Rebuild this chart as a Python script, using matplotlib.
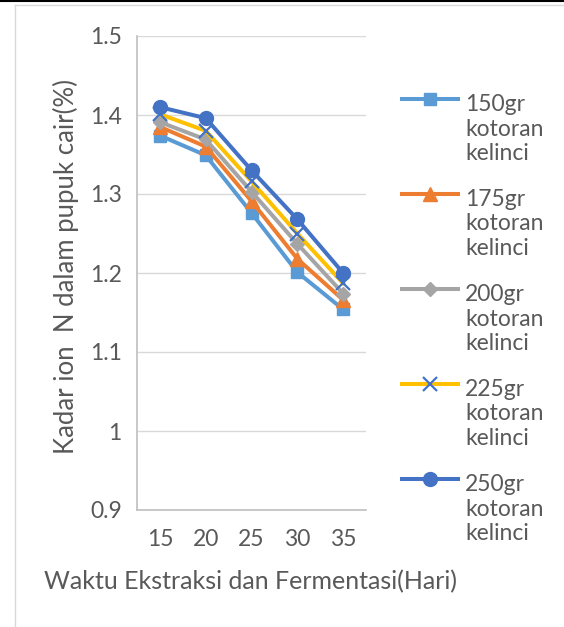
import matplotlib
matplotlib.use("Agg")
from matplotlib import pyplot as plt
from matplotlib.lines import Line2D

plt.rcParams['font.family'] = ['Lato', 'DejaVu Sans']

#%% Data

hari = [15, 20, 25, 30, 35]
n_150 = [1.374, 1.349, 1.276, 1.201, 1.154]
n_175 = [1.385, 1.360, 1.291, 1.218, 1.166]
n_200 = [1.391, 1.369, 1.303, 1.237, 1.174]
n_225 = [1.401, 1.380, 1.316, 1.250, 1.187]
n_250 = [1.410, 1.396, 1.330, 1.268, 1.200]
labels = ['150gr\nkotoran\nkelinci', '175gr\nkotoran\nkelinci', '200gr\nkotoran\nkelinci',
          '225gr\nkotoran\nkelinci', '250gr\nkotoran\nkelinci']
yticks = [0.9, 1, 1.1, 1.2, 1.3, 1.4, 1.5]
ytick_labels = ['0.9', '1', '1.1', '1.2', '1.3', '1.4', '1.5']

series = [n_150, n_175, n_200, n_225, n_250]
line_colors = ['#5B9BD5', '#ED7D31', '#A5A5A5', '#FFC000', '#4472C4']
marker_colors = ['#5B9BD5', '#ED7D31', '#A5A5A5', '#4472C4', '#4472C4']
markers = ['s', '^', 'D', 'x', 'o']
msizes = [8.5, 9.5, 7.5, 10, 10]

txt = '#595959'
W, H = 564, 627
lw = 2.9

fig = plt.figure(figsize=(W/100, H/100), dpi=100)
ax = fig.add_axes([137/W, 1-510/H, (366-137)/W, (510-36)/H])

for y, lc, mc, m, ms in zip(series, line_colors, marker_colors, markers, msizes):
    ax.plot(hari, y, color=lc, lw=lw, marker=m, markersize=ms,
            markerfacecolor=mc, markeredgecolor=mc, markeredgewidth=1.6 if m == 'x' else 1)

ax.set_xlim(12.5, 37.5)
ax.set_ylim(0.9, 1.5)
ax.set_xticks(hari)
ax.set_yticks(yticks)
ax.set_yticklabels(ytick_labels)
ax.tick_params(length=0, labelsize=16.5, colors=txt)
ax.tick_params(axis='y', pad=11)
ax.tick_params(axis='x', pad=14)
ax.grid(axis='y', color='#D9D9D9', lw=1)
ax.set_axisbelow(True)
for s in ['top', 'right']:
    ax.spines[s].set_visible(False)
for s in ['left', 'bottom']:
    ax.spines[s].set_color('#BFBFBF')
    ax.spines[s].set_linewidth(1.2)

fig.text(251/W, 1-582/H, 'Waktu Ekstraksi dan Fermentasi(Hari)', ha='center', va='center',
         fontsize=18, color=txt)
fig.text(66/W, 1-267/H, 'Kadar ion  N dalam pupuk cair(%)', ha='center', va='center',
         rotation=90, fontsize=18.5, color=txt)

# legend drawn by hand so the handle sits on the first text line
for i, (lab, lc, mc, m, ms) in enumerate(zip(labels, line_colors, marker_colors, markers, msizes)):
    yy = 1 - (99 + 95*i)/H
    fig.add_artist(Line2D([402/W, 458/W], [yy, yy], color=lc, lw=lw))
    fig.add_artist(Line2D([430/W], [yy], marker=m, markersize=ms, color=mc,
                          markeredgewidth=1.6 if m == 'x' else 1, lw=0))
    fig.text(465/W, 1-(129 + 95*i)/H, lab, ha='left', va='center', fontsize=16.5,
             color=txt, linespacing=1.22)

# frame around the chart area
fig.add_artist(Line2D([0, 1], [1-0.8/H, 1-0.8/H], color='black', lw=1.5))
fig.add_artist(Line2D([15/W, 1], [1-4.5/H, 1-4.5/H], color='#D9D9D9', lw=1))
fig.add_artist(Line2D([15/W, 15/W], [0, 1-4.5/H], color='#D9D9D9', lw=1))

fig.savefig('out.png', dpi=100)
